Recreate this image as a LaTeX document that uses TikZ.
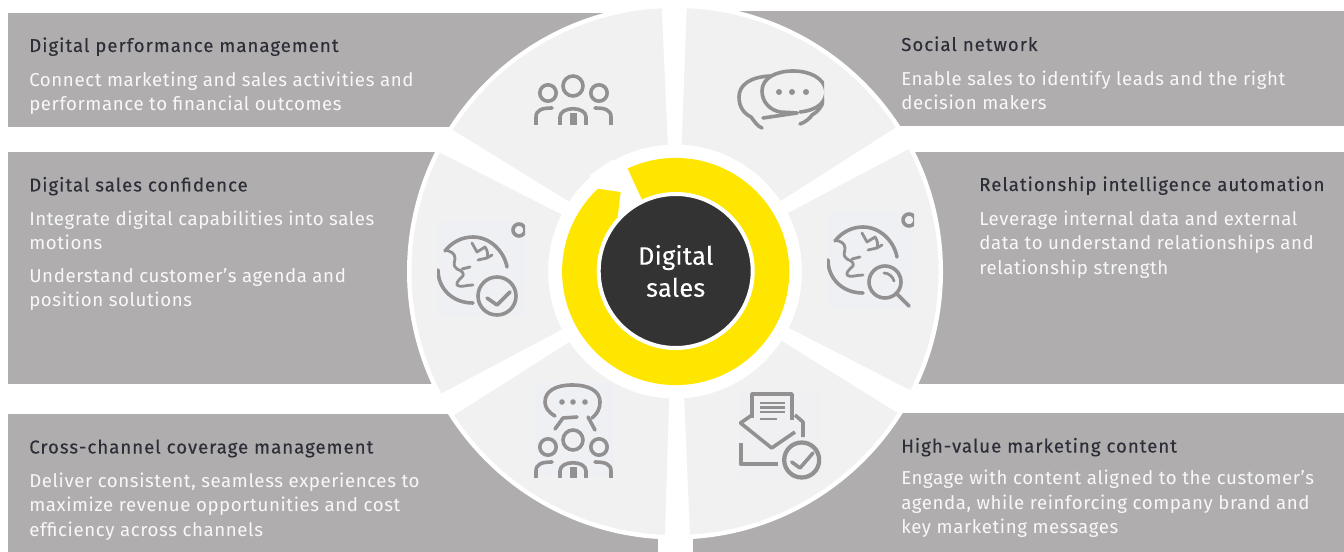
\documentclass[tikz,border=0pt]{standalone}
\usepackage{fontspec}
\setmainfont{Fira Sans}[LetterSpace=1.5]
\newfontfamily\titlefont{Fira Sans}[LetterSpace=5.2,FakeBold=0.22]
\newfontfamily\bodyfont{Fira Sans}[LetterSpace=3.2]
\newfontfamily\hubfont{Fira Sans}[LetterSpace=1,FakeBold=0.1]
\definecolor{boxgray}{HTML}{AFADAE}
\definecolor{sector}{HTML}{F1F1F2}
\definecolor{patch}{HTML}{EFF0F3}
\definecolor{ringy}{HTML}{FFE600}
\definecolor{hub}{HTML}{333333}
\definecolor{ink}{HTML}{2E2E38}
\definecolor{icon}{HTML}{929091}
\tikzset{
  x=0.75pt,y=-0.75pt,
  panel/.style={fill=boxgray,draw=none},
  wedge/.style={fill=sector,even odd rule,draw=none},
  title/.style={anchor=base west,inner sep=0pt,text=ink,font=\titlefont\fontsize{14pt}{18.5pt}\selectfont},
  body/.style={anchor=north west,inner sep=0pt,align=left,text=white!92!boxgray,font=\bodyfont\fontsize{14pt}{18.5pt}\selectfont},
  ico/.style={draw=icon,line width=2.7pt,line cap=round,line join=round},
  thin ico/.style={draw=icon,line width=2.1pt,line cap=round,line join=round},
}
\newcommand{\ringpath}{(675,271.5) circle [radius=263.5] (675,271.5) circle [radius=127]}
\newcommand{\wedgeshape}[1]{\begin{scope}\clip #1 -- cycle; \fill[wedge] \ringpath; \end{scope}}
% people icon, local origin = centre head
\newcommand{\peopleicon}[1]{%
  \begin{scope}[shift={(#1)}]
    \draw[ico] (0,0) circle [radius=10];
    \draw[ico] (-25,7) circle [radius=8.2];
    \draw[ico] (26,7) circle [radius=8.2];
    \draw[ico] (-13,42) -- (-13,31) .. controls (-13,20) and (13,20) .. (13,31) -- (13,42);
    \draw[ico] (-37,42) -- (-37,31) .. controls (-37,24) and (-31,22) .. (-21,22);
    \draw[ico] (38,42) -- (38,31) .. controls (38,24) and (32,22) .. (22,22);
    \fill[icon] (-3.5,27) rectangle (3.5,42);
  \end{scope}}
% globe icon, local origin = globe centre
\newcommand{\globeicon}[1]{%
  \begin{scope}[shift={(#1)}]
    \draw[ico] (1,30) .. controls (-20,30) and (-34,15) .. (-34,-3);
    \draw[ico] (-27,-22) .. controls (-20,-31) and (-10,-36) .. (1,-36) .. controls (18,-36) and (32,-22) .. (35,-6);
    \draw[thin ico] (-27,-23) .. controls (-22,-22) and (-17,-20) .. (-17,-15) .. controls (-17,-10) and (-20,-8) .. (-15,-4) .. controls (-10,-2) and (-8,0) .. (-9,3) .. controls (-12,6) and (-16,9) .. (-15,12) .. controls (-12,15) and (-6,12) .. (1,12);
    \draw[thin ico] (-10,-4) -- (-2,-6);
    \draw[thin ico] (0,-30) -- (5,-21) -- (13,-26) .. controls (16,-22) and (16,-18) .. (15,-15) -- (6,-13);
    \draw[thin ico] (15,-15) -- (20,-18);
    \draw[ico] (47,-43) circle [radius=6];
  \end{scope}}
\begin{document}
\begin{tikzpicture}
\useasboundingbox (0,0) rectangle (1344,552);
\fill[white] (0,0) rectangle (1344,552);
% panels
\path[panel] (8,13) rectangle (640,127);
\path[panel] (8,152) rectangle (640,384);
\path[panel] (8,414) rectangle (658,552);
\path[panel] (700,11) rectangle (1344,126);
\path[panel] (700,152) rectangle (1344,384);
\path[panel] (693,413) rectangle (1344,552);
% white disc behind wedges
\fill[white] (675,271.5) circle [radius=268];
\fill[white] (658,530) rectangle (693,552);
% wedges
\wedgeshape{(604,223) -- (418,108.5) -- (400,-20) -- (660.8,-12) -- (669,170)}
\wedgeshape{(596,232) -- (403,134) -- (380,134) -- (380,412) -- (405,412.5) -- (597,311)}
\wedgeshape{(604,320) -- (420,437) -- (420,570) -- (664,565) -- (670,370)}
\wedgeshape{(683,370) -- (691.3,565) -- (940,570) -- (933,435) -- (748,320)}
\wedgeshape{(752,232) -- (945,130) -- (970,130) -- (970,410) -- (949,410) -- (752,309)}
\wedgeshape{(680.8,170) -- (687.4,-12) -- (940,-20) -- (931,105) -- (746,223)}
% yellow ring
\fill[ringy] (675.7,271.5) circle [radius=113.6];
\fill[white] (598,188.7) -- (620.7,192) -- (617.7,217.3) -- (642,200) -- (627.7,169) -- (612,160) -- (590,175) -- cycle;
\node[circle,fill=hub,draw=white,line width=3pt,minimum size=115.5pt,inner sep=0pt,align=center,text=white,font=\hubfont\fontsize{19pt}{24pt}\selectfont] (hub) at (675.7,271) {Digital\\sales};
% icon 1: people
\fill[sector] (534,75) rectangle (613,125);
\begin{scope}
  \clip (534,70) rectangle (613,125);
  \peopleicon{573,86}
\end{scope}
% icon 2: speech bubbles
\fill[sector] (737,69) rectangle (824,130);
\begin{scope}
  \clip (737,69) rectangle (824,130);
  \draw[ico] (797,113) -- (780,112) .. controls (770,110) and (762,102) .. (762,91) .. controls (762,78) and (776,71) .. (793,71) .. controls (810,71) and (824,78) .. (826,91) .. controls (826,102) and (818,110) .. (800,112);
  \draw[ico] (763,118) -- (797,113);
  \draw[ico] (770,76) .. controls (750,77) and (739,85) .. (739,97) .. controls (739,106) and (743,113) .. (751,117) .. controls (755,122) and (757,126) .. (762,128);
  \draw[ico] (800,124) .. controls (806,122) and (810,118) .. (812,115) .. controls (818,112) and (822,106) .. (824,100);
  \fill[icon] (779,92) circle [radius=3] (792,92) circle [radius=3] (806,92) circle [radius=3];
\end{scope}
% icon 3: globe with check
\fill[patch] (437,221) rectangle (525,317);
\begin{scope}
  \clip (437,221) rectangle (525,317);
  \globeicon{472,273}
  \draw[ico,fill=patch] (497,296) circle [radius=19];
  \draw[ico] (487,298) -- (497,305) -- (510,292);
\end{scope}
% icon 4: globe with magnifier
\fill[patch] (827,211) rectangle (914,309);
\begin{scope}
  \clip (827,211) rectangle (914,309);
  \globeicon{862,263}
  \draw[ico,fill=patch] (885,282) circle [radius=16];
  \draw[ico] (897,294) -- (909,306);
  \draw[thin ico] (884,273) .. controls (889,273) and (893,277) .. (894,281);
\end{scope}
% icon 5: chat above people
\fill[patch] (534,382) rectangle (613,477);
\begin{scope}
  \clip (534,382) rectangle (613,477);
  \draw[ico] (555,416) .. controls (548,412) and (545,407) .. (545,402) .. controls (545,391) and (556,385) .. (572,385) .. controls (589,385) and (600,391) .. (600,402) .. controls (600,409) and (597,414) .. (592,418);
  \draw[ico] (555,429) -- (563,418) -- (577,417);
  \draw[ico] (595,430) -- (588,417);
  \fill[icon] (562,402) circle [radius=2.8] (573,402) circle [radius=2.8] (585,402) circle [radius=2.8];
  \peopleicon{573,440}
\end{scope}
% icon 6: envelope with check
\fill[patch!60!sector] (739,392) rectangle (821,479);
\begin{scope}
  \clip (739,392) rectangle (821,479);
  \draw[ico,line cap=butt] (752,418) -- (752,394) -- (792,394) -- (792,420);
  \draw[thin ico,line cap=butt,line width=1.6pt] (760,403) -- (785,403) (760,407.5) -- (785,407.5) (760,412) -- (785,412) (760,419) -- (777,419);
  \draw[ico,line cap=butt] (752,415) -- (740.5,423) -- (771.7,448) -- (795,432);
  \draw[ico,line cap=butt] (795,415) -- (803,422) -- (803,437);
  \draw[ico,line cap=butt,line width=3.2pt] (741,443) -- (741,464) -- (778,464);
  \draw[ico,line width=3.2pt] (801.7,460) circle [radius=17.5];
  \draw[ico] (791.7,462) -- (800,468) -- (813,453);
\end{scope}
% texts: left
\node[title] (t1) at (29,52) {Digital performance management};
\node[body] (b1) at (29,68.5) {\strut Connect marketing and sales activities and\\performance to financial outcomes};
\node[title] (t2) at (29,191.5) {Digital sales confidence};
\node[body] (b2) at (29,207.5) {\strut Integrate digital capabilities into sales\\motions};
\node[body] (b2b) at (29,264.5) {\strut Understand customer’s agenda and\\position solutions};
\node[title] (t3) at (29,453.5) {Cross-channel coverage management};
\node[body] (b3) at (29,469.5) {\strut Deliver consistent, seamless experiences to\\maximize revenue opportunities and cost\\efficiency across channels};
% texts: right
\node[title] (t4) at (901,51) {Social network};
\node[body] (b4) at (901,67.5) {\strut Enable sales to identify leads and the right\\decision makers};
\node[title] (t5) at (979,191) {Relationship intelligence automation};
\node[body] (b5) at (979,207.5) {\strut Leverage internal data and external\\data to understand relationships and\\relationship strength};
\node[title] (t6) at (901,452.5) {High-value marketing content};
\node[body] (b6) at (901,467) {\strut Engage with content aligned to the customer’s\\agenda, while reinforcing company brand and\\key marketing messages};
\end{tikzpicture}
\end{document}
